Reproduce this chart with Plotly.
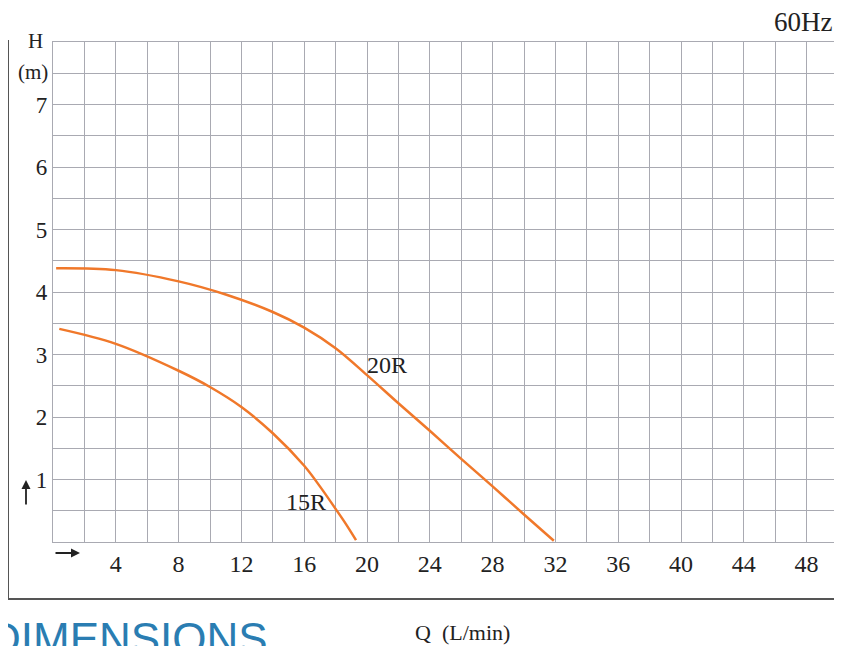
import plotly.graph_objects as go

# Data
q_20r = [0.2, 4, 8, 11, 14, 16, 18, 20, 22, 24, 26, 28, 30, 31.9]
h_20r = [4.38, 4.35, 4.17, 3.96, 3.68, 3.43, 3.10, 2.67, 2.22, 1.78, 1.33, 0.89, 0.44, 0.02]

q_15r = [0.4, 4, 8, 10, 12, 14, 16, 17, 18, 18.65, 19.3]
h_15r = [3.41, 3.17, 2.74, 2.48, 2.16, 1.74, 1.22, 0.89, 0.53, 0.29, 0.03]

x_ticks = [4, 8, 12, 16, 20, 24, 28, 32, 36, 40, 44, 48]
y_ticks = [1, 2, 3, 4, 5, 6, 7]

orange = "#F0782A"
grid = "#A9AAB2"
serif = "Liberation Serif"

fig = go.Figure()
fig.add_trace(go.Scatter(x=q_20r, y=h_20r, mode="lines",
                         line=dict(color=orange, width=2.5, shape="spline", smoothing=1.0),
                         showlegend=False, hoverinfo="skip"))
fig.add_trace(go.Scatter(x=q_15r, y=h_15r, mode="lines",
                         line=dict(color=orange, width=2.5, shape="spline", smoothing=1.0),
                         showlegend=False, hoverinfo="skip"))

# page body has an 8px margin, so the figure is laid out 8px left/up
fig.update_layout(
    width=834, height=638,
    margin=dict(l=45, r=4, t=34, b=104),
    paper_bgcolor="white", plot_bgcolor="white",
    font=dict(family=serif, color="#222", size=24),
    xaxis=dict(range=[0, 50], tickvals=x_ticks, ticktext=[str(v) for v in x_ticks],
               showgrid=True, gridcolor=grid, gridwidth=1.3,
               minor=dict(dtick=2, showgrid=True, gridcolor=grid, gridwidth=1.3),
               showline=True, mirror=True, linecolor=grid, linewidth=1.3,
               ticks="", zeroline=False, tickfont=dict(size=24, family=serif, color="#222")),
    yaxis=dict(range=[0, 8], tickvals=y_ticks, ticktext=[str(v) for v in y_ticks],
               showgrid=True, gridcolor=grid, gridwidth=1.3,
               minor=dict(dtick=0.5, showgrid=True, gridcolor=grid, gridwidth=1.3),
               showline=True, mirror=True, linecolor=grid, linewidth=1.3,
               ticks="", zeroline=False, tickfont=dict(size=23, family=serif, color="#222")),
)

def px(x):
    return (x - 53) / 785

def py(y):
    return (542 - y) / 500

def txt(text, x, y, size, xanchor="center", family=serif, color="#222", yanchor="middle"):
    return dict(text=text, x=px(x), y=py(y), xref="paper", yref="paper", xanchor=xanchor,
                yanchor=yanchor, showarrow=False, font=dict(size=size, family=family, color=color))

ann = [
    dict(text="20R", x=21.3, y=2.83, xref="x", yref="y", xanchor="center", yanchor="middle",
         showarrow=False, font=dict(size=24, family=serif)),
    dict(text="15R", x=16.1, y=0.64, xref="x", yref="y", xanchor="center", yanchor="middle",
         showarrow=False, font=dict(size=24, family=serif)),
    txt("60Hz", 834, 22, 27, xanchor="right"),
    txt("H", 35, 41, 21),
    txt("(m)", 33, 72, 21),
    txt("Q  (L/min)", 462, 632, 22),
    txt("DIMENSIONS", -13, 612, 44, xanchor="left", family="Liberation Sans", color="#2A7DB2", yanchor="top"),
    # arrows
    dict(text="", x=px(80), y=py(553), xref="paper", yref="paper", ax=-26, ay=0, showarrow=True,
         arrowhead=2, arrowsize=1, arrowwidth=1.8, arrowcolor="#222"),
    dict(text="", x=px(26), y=py(480), xref="paper", yref="paper", ax=0, ay=26, showarrow=True,
         arrowhead=2, arrowsize=1, arrowwidth=1.8, arrowcolor="#222"),
]
fig.update_layout(annotations=ann)

fig.add_shape(type="line", xref="paper", yref="paper", x0=px(8), x1=px(8), y0=py(40), y1=py(599),
              line=dict(color="#555", width=2))
fig.add_shape(type="line", xref="paper", yref="paper", x0=px(8), x1=px(850), y0=py(599), y1=py(599),
              line=dict(color="#555", width=2))

fig.write_html("out.html")
